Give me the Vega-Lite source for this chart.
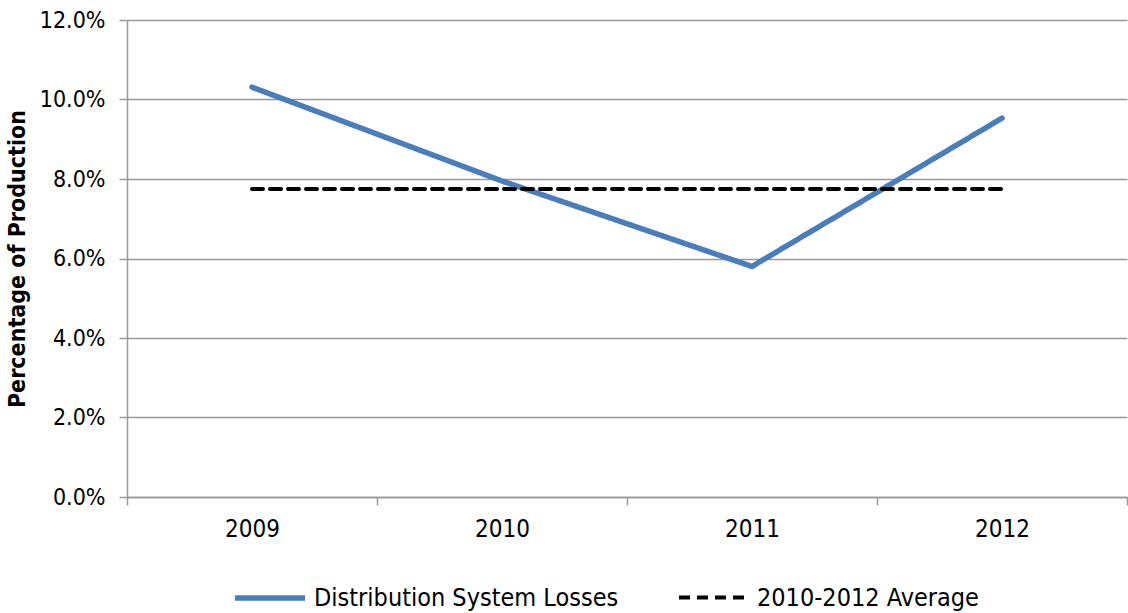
{
  "$schema": "https://vega.github.io/schema/vega-lite/v6.json",
  "autosize": {"type": "none"},
  "width": 1000,
  "height": 477,
  "padding": {"left": 127, "top": 20, "right": 1, "bottom": 116},
  "background": "white",
  "config": {
    "view": {"stroke": null},
    "font": "DejaVu Sans Condensed, Liberation Sans Narrow, sans-serif"
  },
  "data": {
    "values": [
      {"year": "2009", "series": "Distribution System Losses", "value": 0.1031},
      {"year": "2010", "series": "Distribution System Losses", "value": 0.0795},
      {"year": "2011", "series": "Distribution System Losses", "value": 0.058},
      {"year": "2012", "series": "Distribution System Losses", "value": 0.0953},
      {"year": "2009", "series": "2010-2012 Average", "value": 0.0775},
      {"year": "2010", "series": "2010-2012 Average", "value": 0.0775},
      {"year": "2011", "series": "2010-2012 Average", "value": 0.0775},
      {"year": "2012", "series": "2010-2012 Average", "value": 0.0775}
    ]
  },
  "mark": {"type": "line", "strokeCap": "round"},
  "encoding": {
    "x": {
      "field": "year", "type": "ordinal",
      "scale": {"paddingInner": 0, "paddingOuter": 0},
      "axis": {
        "title": null, "labelAngle": 0, "tickBand": "extent", "grid": false,
        "domainColor": "#999999", "domainWidth": 1.5, "tickColor": "#999999", "tickWidth": 1.5,
        "tickSize": 8, "labelFontSize": 24, "labelColor": "black", "labelPadding": 12,
        "labelFont": "DejaVu Sans Condensed, Liberation Sans Narrow, sans-serif"
      }
    },
    "y": {
      "field": "value", "type": "quantitative",
      "scale": {"domain": [0, 0.12]},
      "axis": {
        "title": "Percentage of Production", "titleFontSize": 23, "titleFontWeight": "bold",
        "titleColor": "black", "titlePadding": 10,
        "format": ".1%", "values": [0, 0.02, 0.04, 0.06, 0.08, 0.10, 0.12],
        "grid": true, "gridColor": "#999999", "gridWidth": 1.5,
        "domainColor": "#999999", "domainWidth": 1.5, "tickColor": "#999999", "tickWidth": 1.5,
        "tickSize": 8, "labelFontSize": 23, "labelColor": "black", "labelPadding": 14,
        "labelFont": "DejaVu Sans Condensed, Liberation Sans Narrow, sans-serif",
        "titleFont": "DejaVu Sans Condensed, Liberation Sans Narrow, sans-serif"
      }
    },
    "color": {
      "field": "series", "type": "nominal",
      "scale": {"domain": ["Distribution System Losses", "2010-2012 Average"], "range": ["#4a7ebb", "#000000"]},
      "legend": {
        "title": null, "orient": "none", "direction": "horizontal",
        "legendX": 105, "legendY": 540,
        "symbolType": "stroke", "symbolSize": 4900, "symbolStrokeWidth": 5,
        "labelFontSize": 25, "labelColor": "black", "columnPadding": 52, "labelOffset": 6,
        "labelLimit": 500,
        "labelFont": "DejaVu Sans Condensed, Liberation Sans Narrow, sans-serif"
      }
    },
    "strokeDash": {
      "field": "series", "type": "nominal",
      "scale": {"domain": ["Distribution System Losses", "2010-2012 Average"], "range": [[1, 0], [11, 7]]},
      "legend": null
    },
    "strokeWidth": {
      "field": "series", "type": "nominal",
      "scale": {"domain": ["Distribution System Losses", "2010-2012 Average"], "range": [5.5, 4]},
      "legend": null
    }
  }
}
